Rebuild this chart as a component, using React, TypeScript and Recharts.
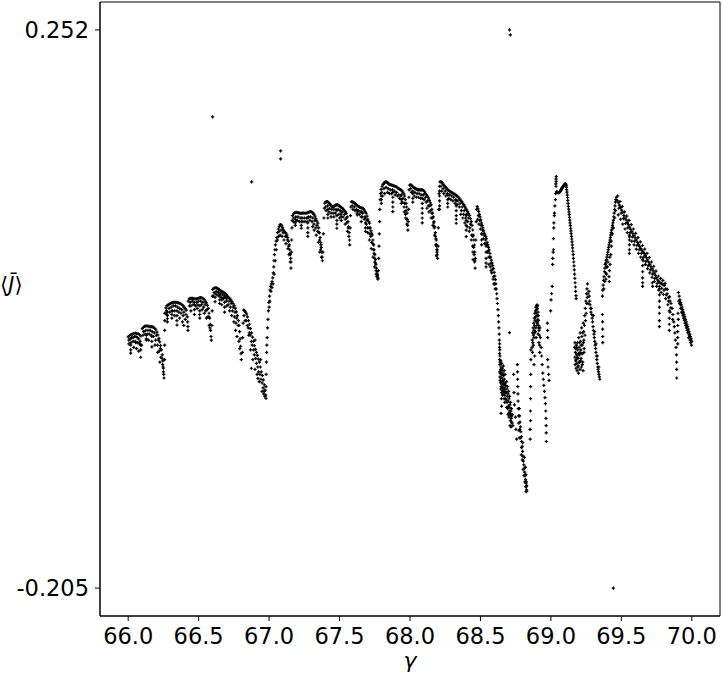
import React from 'react';
import { ScatterChart, Scatter, XAxis, YAxis, ReferenceArea } from 'recharts';

type P = [number, number];

// gamma, <J>
const branch66: P[] = [
  [66.000,0.0006],[66.010,0.0018],[66.020,0.0026],[66.030,0.0030],[66.040,0.0034],[66.050,0.0038],[66.060,0.0036],[66.070,0.0034],[66.080,0.0026],[66.090,0.0014],
  [66.005,-0.002],[66.015,-0.001],[66.025,0.000],[66.035,0.000],[66.045,0.001],[66.055,0.001],[66.065,0.000],[66.075,-0.001],[66.085,-0.003],[66.095,-0.006],
  [66.018,-0.006],[66.018,-0.010],[66.018,-0.0126],[66.089,-0.006],[66.089,-0.010],[66.089,-0.016],[66.053,-0.004],
  [66.100,0.0075],[66.108,0.0085],[66.116,0.0092],[66.124,0.0096],[66.132,0.0096],[66.140,0.0094],[66.148,0.0092],[66.156,0.0091],[66.164,0.0090],[66.172,0.0088],[66.180,0.0084],[66.188,0.0077],[66.196,0.0065],[66.204,0.0045],[66.211,0.0022],[66.218,-0.0005],[66.224,-0.0035],[66.230,-0.0065],[66.236,-0.0100],[66.242,-0.0140],[66.246,-0.0190],[66.250,-0.0250],[66.252,-0.0300],[66.254,-0.0330],
  [66.110,0.005],[66.125,0.006],[66.140,0.006],[66.155,0.006],[66.170,0.005],[66.185,0.004],[66.200,0.002],[66.215,-0.002],[66.228,-0.009],[66.240,-0.017],[66.248,-0.024],
  [66.129,0.002],[66.129,-0.001],[66.129,-0.002],[66.168,0.001],[66.168,-0.003],[66.168,-0.0075],[66.245,-0.022],[66.250,-0.028],
  [66.259,-0.018],[66.259,-0.006],[66.259,0.006],[66.260,0.014],[66.261,0.020],
  [66.262,0.020],[66.268,0.0245],[66.276,0.0262],[66.284,0.0270],[66.292,0.0275],[66.300,0.0280],[66.308,0.0285],[66.316,0.0288],[66.324,0.0290],[66.332,0.0290],[66.340,0.0289],[66.348,0.0287],[66.356,0.0285],[66.364,0.0282],[66.372,0.0278],[66.380,0.0272],[66.388,0.0262],[66.396,0.0250],[66.404,0.0238],[66.412,0.0225],
  [66.272,0.022],[66.290,0.024],[66.305,0.025],[66.320,0.026],[66.335,0.026],[66.350,0.025],[66.365,0.024],[66.380,0.023],[66.395,0.021],[66.410,0.019],
  [66.278,0.021],[66.278,0.018],[66.278,0.0155],[66.278,0.013],[66.310,0.022],[66.310,0.019],[66.310,0.016],[66.346,0.022],[66.346,0.018],[66.346,0.014],[66.346,0.0104],
  [66.420,0.017],[66.422,0.013],[66.424,0.009],[66.424,0.006],
  [66.426,0.030],[66.434,0.0318],[66.442,0.0322],[66.450,0.0323],[66.458,0.0322],[66.466,0.0320],[66.474,0.0319],[66.482,0.0318],[66.490,0.0320],[66.498,0.0323],[66.506,0.0326],[66.514,0.0328],[66.522,0.0327],[66.530,0.0323],[66.538,0.0315],[66.546,0.0300],[66.554,0.0285],[66.562,0.0265],[66.568,0.0240],[66.574,0.020],[66.578,0.016],[66.582,0.011],[66.585,0.006],[66.588,0.001],[66.590,-0.002],
  [66.440,0.029],[66.455,0.030],[66.470,0.029],[66.485,0.029],[66.500,0.030],[66.515,0.030],[66.530,0.029],[66.545,0.027],[66.560,0.023],[66.572,0.017],[66.580,0.008],
  [66.470,0.027],[66.470,0.023],[66.470,0.019],[66.508,0.026],[66.508,0.022],[66.508,0.019],[66.508,0.016],[66.445,0.026],[66.445,0.022],
  [66.594,0.010],[66.596,0.022],[66.598,0.034],
  [66.600,0.0395],[66.608,0.0405],[66.616,0.0409],[66.624,0.0410],[66.632,0.0405],[66.640,0.0398],[66.648,0.0391],[66.656,0.0386],[66.664,0.0380],[66.672,0.0373],[66.680,0.0367],[66.688,0.0360],[66.696,0.0350],[66.704,0.0340],[66.712,0.0330],[66.720,0.0323],[66.728,0.0310],[66.736,0.0295],[66.744,0.0280],[66.752,0.0262],[66.760,0.0240],[66.768,0.0212],[66.775,0.018],[66.782,0.014],[66.787,0.010],[66.791,0.005],[66.795,-0.001],[66.798,-0.007],[66.801,-0.013],[66.803,-0.018],
  [66.610,0.037],[66.625,0.038],[66.640,0.037],[66.655,0.036],[66.670,0.035],[66.685,0.034],[66.700,0.032],[66.715,0.030],[66.730,0.028],[66.745,0.025],[66.758,0.021],[66.770,0.016],[66.780,0.010],
  [66.617,0.036],[66.617,0.033],[66.617,0.0295],[66.649,0.035],[66.649,0.031],[66.649,0.028],[66.684,0.033],[66.684,0.029],[66.684,0.025],[66.684,0.021],
  [66.810,-0.012],[66.813,0.000],[66.816,0.012],
  [66.819,0.0227],[66.826,0.0222],[66.833,0.0210],[66.840,0.0195],[66.847,0.0170],[66.854,0.0140],[66.861,0.0110],[66.868,0.0075],[66.875,0.0040],[66.882,0.0005],[66.889,-0.0030],[66.896,-0.0065],[66.903,-0.0095],[66.910,-0.0120],[66.917,-0.0145],[66.924,-0.0175],[66.931,-0.0200],[66.938,-0.0240],[66.945,-0.0280],[66.952,-0.0310],[66.959,-0.0345],[66.966,-0.0385],[66.972,-0.0430],[66.976,-0.0470],[66.978,-0.0496],
  [66.830,0.014],[66.845,0.010],[66.860,0.004],[66.875,-0.003],[66.890,-0.010],[66.905,-0.017],[66.920,-0.024],[66.935,-0.030],[66.950,-0.037],[66.965,-0.044],
  [66.874,-0.025],[66.921,-0.0333],[66.855,0.002],[66.900,-0.002],[66.940,-0.018],
];

const extra66: P[] = [
  [66.005,-0.005],[66.020,-0.004],[66.035,-0.003],[66.050,-0.003],[66.065,-0.004],[66.080,-0.005],[66.040,-0.008],[66.060,-0.009],[66.075,-0.011],
  [66.105,0.002],[66.120,0.003],[66.135,0.003],[66.150,0.003],[66.165,0.002],[66.180,0.001],[66.195,-0.002],[66.208,-0.006],[66.220,-0.011],[66.232,-0.016],[66.145,-0.002],[66.190,-0.006],[66.210,-0.012],[66.225,-0.020],
  [66.275,0.019],[66.295,0.021],[66.315,0.022],[66.330,0.022],[66.360,0.021],[66.375,0.020],[66.390,0.018],[66.405,0.015],[66.330,0.018],[66.365,0.016],[66.385,0.013],[66.395,0.010],
  [66.435,0.026],[66.460,0.027],[66.480,0.026],[66.495,0.027],[66.520,0.027],[66.535,0.025],[66.550,0.022],[66.565,0.017],[66.490,0.024],[66.525,0.023],[66.540,0.020],[66.555,0.016],[66.575,0.010],
  [66.605,0.034],[66.630,0.035],[66.645,0.034],[66.660,0.033],[66.675,0.032],[66.695,0.030],[66.710,0.027],[66.725,0.025],[66.740,0.022],[66.755,0.017],[66.765,0.012],[66.700,0.026],[66.720,0.022],[66.735,0.018],[66.750,0.013],[66.762,0.006],[66.772,0.001],[66.786,-0.003],[66.792,-0.009],[66.664,0.031],[66.664,0.027],
  [66.822,0.018],[66.838,0.014],[66.852,0.008],[66.866,0.002],[66.880,-0.006],[66.895,-0.014],[66.910,-0.021],[66.925,-0.028],[66.942,-0.034],[66.958,-0.041],[66.868,-0.010],[66.885,-0.018],[66.900,-0.026],[66.915,-0.030],[66.930,-0.036],[66.950,-0.044],[66.962,-0.046],[66.970,-0.048],
];

const branch67: P[] = [
  [66.978,-0.040],[66.979,-0.030],[66.981,-0.020],[66.983,-0.012],[66.984,-0.006],[66.986,0.000],[66.989,0.008],[66.992,0.015],[66.995,0.022],[66.999,0.029],[67.003,0.034],[67.007,0.039],[67.011,0.042],[67.016,0.044],[67.021,0.046],[67.026,0.049],[67.030,0.053],[67.033,0.058],[67.035,0.063],[67.038,0.068],[67.041,0.072],[67.045,0.076],[67.050,0.079],[67.055,0.082],[67.060,0.086],[67.066,0.089],[67.072,0.091],[67.078,0.0925],[67.084,0.0925],[67.090,0.0915],[67.096,0.090],[67.102,0.088],[67.108,0.087],[67.114,0.086],[67.120,0.0855],[67.126,0.084],[67.132,0.082],[67.138,0.079],[67.143,0.076],[67.147,0.072],[67.150,0.068],[67.153,0.065],[67.156,0.062],
  [67.070,0.087],[67.085,0.088],[67.100,0.086],[67.115,0.083],[67.130,0.080],[67.140,0.075],[67.148,0.069],
  [67.158,0.070],[67.160,0.080],[67.162,0.090],[67.164,0.096],
  [67.166,0.1000],[67.174,0.1015],[67.182,0.1022],[67.190,0.1026],[67.198,0.1026],[67.206,0.1024],[67.214,0.1020],[67.222,0.1019],[67.230,0.1019],[67.238,0.1020],[67.246,0.1020],[67.254,0.1019],[67.262,0.1019],[67.270,0.1022],[67.278,0.1027],[67.286,0.1030],[67.294,0.1032],[67.302,0.1030],[67.310,0.1022],[67.318,0.1010],[67.325,0.0995],[67.332,0.0975],[67.339,0.0955],[67.346,0.0937],[67.352,0.090],[67.357,0.086],[67.362,0.082],[67.366,0.078],[67.370,0.074],[67.373,0.070],[67.376,0.066],[67.378,0.063],
  [67.175,0.098],[67.190,0.099],[67.205,0.099],[67.220,0.098],[67.235,0.098],[67.250,0.098],[67.265,0.098],[67.280,0.099],[67.295,0.099],[67.310,0.098],[67.325,0.096],[67.340,0.092],[67.355,0.086],[67.368,0.076],
  [67.186,0.097],[67.186,0.094],[67.186,0.092],[67.228,0.098],[67.228,0.095],[67.228,0.092],[67.228,0.0896],[67.275,0.098],[67.275,0.094],[67.275,0.090],[67.275,0.086],[67.275,0.083],
  [67.381,0.070],[67.385,0.085],[67.389,0.098],[67.392,0.106],
  [67.395,0.1102],[67.402,0.1110],[67.409,0.1114],[67.416,0.1114],[67.423,0.1105],[67.430,0.1095],[67.437,0.1085],[67.444,0.1078],[67.451,0.1073],[67.458,0.1075],[67.465,0.1080],[67.472,0.1085],[67.479,0.1087],[67.486,0.1087],[67.493,0.1083],[67.500,0.1077],[67.507,0.1070],[67.514,0.1065],[67.521,0.1060],[67.528,0.1050],[67.535,0.1040],[67.542,0.1030],[67.549,0.1019],[67.555,0.099],[67.560,0.095],[67.564,0.091],[67.568,0.086],[67.571,0.080],[67.572,0.076],
  [67.400,0.107],[67.415,0.108],[67.430,0.106],[67.445,0.105],[67.460,0.105],[67.475,0.105],[67.490,0.105],[67.505,0.104],[67.520,0.103],[67.535,0.101],[67.550,0.098],[67.562,0.090],
  [67.417,0.105],[67.417,0.101],[67.417,0.098],[67.481,0.104],[67.481,0.100],[67.481,0.096],[67.481,0.093],[67.481,0.0896],[67.512,0.103],[67.512,0.099],[67.512,0.096],
  [67.575,0.090],[67.578,0.100],[67.580,0.107],
  [67.584,0.1113],[67.591,0.1112],[67.598,0.1108],[67.605,0.1102],[67.612,0.1095],[67.619,0.1088],[67.626,0.1081],[67.633,0.1076],[67.640,0.1071],[67.647,0.1066],[67.654,0.1063],[67.661,0.1061],[67.668,0.1056],[67.675,0.1045],[67.682,0.1030],[67.689,0.1019],[67.695,0.0995],[67.701,0.097],[67.707,0.095],[67.713,0.0937],[67.718,0.090],[67.723,0.0875],[67.728,0.0855],[67.732,0.0841],[67.737,0.080],[67.742,0.076],[67.746,0.072],[67.750,0.068],[67.754,0.064],[67.758,0.060],[67.762,0.057],[67.766,0.054],[67.770,0.051],[67.773,0.049],
  [67.590,0.108],[67.605,0.107],[67.620,0.105],[67.635,0.104],[67.650,0.103],[67.665,0.102],[67.680,0.099],[67.695,0.096],[67.710,0.090],[67.722,0.083],[67.735,0.077],[67.745,0.069],[67.755,0.061],
  [67.626,0.104],[67.626,0.1005],[67.654,0.103],[67.654,0.099],[67.654,0.0951],[67.684,0.098],[67.684,0.094],[67.684,0.090],[67.684,0.087],
  [67.750,0.062],[67.760,0.055],[67.768,0.052],[67.772,0.048],[67.765,0.050],
];

const extra67: P[] = [
  [67.000,0.025],[67.005,0.030],[67.013,0.038],[67.020,0.041],[67.028,0.044],[67.036,0.052],[67.044,0.063],[67.052,0.072],[67.060,0.080],[67.068,0.083],[67.078,0.084],[67.092,0.083],[67.106,0.080],[67.120,0.077],[67.134,0.073],[67.142,0.068],[67.150,0.062],[67.155,0.057],
  [67.172,0.095],[67.185,0.095],[67.200,0.096],[67.215,0.095],[67.240,0.095],[67.255,0.095],[67.270,0.095],[67.290,0.096],[67.305,0.095],[67.318,0.093],[67.332,0.090],[67.345,0.087],[67.358,0.080],[67.365,0.072],[67.372,0.066],[67.310,0.091],[67.320,0.088],[67.335,0.084],[67.350,0.078],[67.360,0.070],
  [67.405,0.104],[67.425,0.103],[67.440,0.102],[67.455,0.102],[67.470,0.102],[67.495,0.101],[67.510,0.101],[67.525,0.099],[67.540,0.097],[67.552,0.094],[67.566,0.083],[67.440,0.099],[67.460,0.099],[67.500,0.098],[67.540,0.093],[67.556,0.087],
  [67.595,0.105],[67.610,0.104],[67.625,0.102],[67.640,0.101],[67.660,0.099],[67.675,0.097],[67.690,0.093],[67.700,0.090],[67.715,0.085],[67.728,0.078],[67.740,0.072],[67.750,0.065],[67.700,0.086],[67.712,0.080],[67.725,0.073],[67.738,0.066],[67.748,0.058],[67.760,0.052],
];

const branch68: P[] = [
  [67.776,0.055],[67.778,0.065],[67.780,0.075],[67.782,0.085],[67.784,0.095],[67.786,0.105],[67.788,0.113],[67.791,0.118],
  [67.795,0.1215],[67.802,0.1240],[67.809,0.1255],[67.816,0.1265],[67.823,0.1274],[67.830,0.1278],[67.837,0.1272],[67.844,0.1265],[67.851,0.1258],[67.858,0.1254],[67.865,0.1251],[67.872,0.1249],[67.879,0.1246],[67.886,0.1243],[67.893,0.1240],[67.900,0.1237],[67.907,0.1232],[67.914,0.1225],[67.921,0.1220],[67.928,0.1215],[67.935,0.1210],[67.942,0.1203],[67.949,0.1192],[67.956,0.1178],[67.962,0.1160],[67.967,0.113],[67.972,0.110],[67.976,0.107],[67.979,0.102],[67.981,0.097],[67.983,0.092],[67.985,0.088],
  [67.800,0.119],[67.815,0.122],[67.830,0.123],[67.845,0.122],[67.860,0.121],[67.875,0.121],[67.890,0.120],[67.905,0.119],[67.920,0.117],[67.935,0.116],[67.950,0.114],[67.962,0.110],[67.972,0.104],
  [67.796,0.116],[67.796,0.113],[67.796,0.110],[67.878,0.119],[67.878,0.115],[67.878,0.111],[67.878,0.107],[67.878,0.1032],[67.938,0.117],[67.938,0.113],[67.938,0.110],
  [67.987,0.095],[67.990,0.105],[67.992,0.115],[67.994,0.121],
  [67.998,0.1250],[68.005,0.1252],[68.012,0.1248],[68.019,0.1238],[68.026,0.1230],[68.033,0.1224],[68.040,0.1220],[68.047,0.1216],[68.054,0.1211],[68.061,0.1210],[68.068,0.1210],[68.075,0.1210],[68.082,0.1210],[68.089,0.1210],[68.096,0.1205],[68.103,0.1195],[68.110,0.1182],[68.117,0.1170],[68.124,0.1158],[68.131,0.1145],[68.138,0.1125],[68.144,0.1105],[68.150,0.1087],[68.155,0.105],[68.160,0.102],[68.165,0.099],[68.170,0.095],[68.175,0.091],[68.180,0.086],[68.184,0.081],[68.187,0.076],[68.190,0.072],[68.193,0.068],[68.196,0.065],
  [68.005,0.122],[68.020,0.120],[68.035,0.119],[68.050,0.118],[68.065,0.118],[68.080,0.117],[68.095,0.117],[68.110,0.115],[68.125,0.112],[68.140,0.108],[68.155,0.102],[68.168,0.094],[68.180,0.083],
  [68.020,0.118],[68.020,0.114],[68.020,0.111],[68.087,0.114],[68.087,0.110],[68.087,0.106],[68.087,0.102],[68.087,0.098],[68.087,0.094],
  [68.186,0.080],[68.189,0.075],[68.192,0.070],[68.188,0.067],[68.194,0.072],
  [68.199,0.075],[68.201,0.090],[68.203,0.105],[68.206,0.118],[68.209,0.124],
  [68.213,0.1275],[68.220,0.1278],[68.227,0.1270],[68.234,0.1258],[68.241,0.1248],[68.248,0.1238],[68.255,0.1228],[68.262,0.1218],[68.269,0.1210],[68.276,0.1204],[68.283,0.1198],[68.290,0.1193],[68.297,0.1188],[68.304,0.1183],[68.311,0.1178],[68.318,0.1173],[68.325,0.1167],[68.332,0.1161],[68.339,0.1155],[68.346,0.1146],[68.353,0.1135],[68.360,0.1125],[68.367,0.1115],[68.374,0.1101],[68.381,0.1090],[68.388,0.1076],[68.395,0.1061],[68.402,0.1047],[68.409,0.1033],[68.416,0.1017],[68.423,0.1000],[68.429,0.0975],[68.435,0.0950],[68.440,0.092],[68.445,0.0882],[68.449,0.084],[68.453,0.080],[68.457,0.0759],[68.459,0.070],[68.461,0.063],[68.462,0.057],
  [68.220,0.124],[68.235,0.122],[68.250,0.120],[68.265,0.118],[68.280,0.117],[68.295,0.116],[68.310,0.115],[68.325,0.113],[68.340,0.112],[68.355,0.110],[68.370,0.107],[68.385,0.104],[68.400,0.101],[68.415,0.098],[68.430,0.093],[68.445,0.083],
  [68.210,0.120],[68.210,0.116],[68.210,0.112],[68.210,0.108],[68.210,0.105],[68.268,0.117],[68.268,0.113],[68.268,0.110],[68.268,0.107],
  [68.328,0.112],[68.328,0.108],[68.328,0.104],[68.328,0.100],[68.328,0.097],[68.328,0.0937],[68.399,0.100],[68.399,0.096],[68.399,0.092],[68.399,0.088],[68.399,0.0827],
  [68.445,0.075],[68.447,0.070],[68.448,0.064],
  [68.464,0.065],[68.467,0.080],[68.470,0.095],[68.473,0.105],
  [68.477,0.1073],[68.482,0.1055],[68.487,0.1035],[68.492,0.1010],[68.497,0.0990],[68.502,0.0965],[68.507,0.0940],[68.512,0.0920],[68.517,0.0900],[68.522,0.0875],[68.527,0.0855],[68.532,0.0840],[68.537,0.0827],[68.542,0.0810],[68.547,0.0780],[68.552,0.0760],[68.557,0.0740],[68.562,0.0718],[68.567,0.0690],[68.572,0.0660],[68.577,0.0635],[68.582,0.0610],[68.587,0.0590],[68.592,0.0565],[68.597,0.0535],[68.602,0.0505],[68.606,0.0475],[68.609,0.0440],[68.612,0.0400],[68.615,0.0360],[68.618,0.0320],[68.621,0.0280],[68.624,0.0230],[68.627,0.0180],[68.629,0.0130],[68.631,0.0080],[68.633,0.0030],[68.634,-0.0020],[68.635,-0.0080],[68.636,-0.0130],
  [68.485,0.100],[68.495,0.096],[68.505,0.092],[68.515,0.088],[68.525,0.084],[68.535,0.080],[68.545,0.076],[68.555,0.071],[68.565,0.066],[68.575,0.061],[68.585,0.056],[68.595,0.050],
  [68.540,0.075],[68.540,0.070],[68.540,0.065],[68.540,0.061],[68.540,0.058],[68.508,0.085],[68.508,0.080],[68.508,0.076],
];

const extra68: P[] = [
  [67.805,0.116],[67.820,0.118],[67.840,0.119],[67.855,0.118],[67.870,0.118],[67.895,0.117],[67.910,0.116],[67.925,0.114],[67.945,0.111],[67.958,0.107],[67.968,0.101],[67.975,0.097],[67.960,0.103],[67.970,0.098],[67.978,0.093],
  [68.010,0.119],[68.030,0.116],[68.045,0.115],[68.060,0.115],[68.075,0.114],[68.100,0.113],[68.115,0.111],[68.130,0.108],[68.145,0.104],[68.160,0.098],[68.172,0.090],[68.184,0.076],[68.120,0.106],[68.135,0.103],[68.150,0.098],[68.162,0.092],[68.175,0.084],
  [68.225,0.120],[68.240,0.118],[68.255,0.116],[68.275,0.114],[68.290,0.113],[68.305,0.112],[68.320,0.110],[68.335,0.109],[68.350,0.107],[68.365,0.104],[68.380,0.101],[68.395,0.098],[68.410,0.095],[68.425,0.090],[68.438,0.084],[68.452,0.074],[68.360,0.101],[68.375,0.098],[68.390,0.094],[68.405,0.091],[68.420,0.087],[68.435,0.080],[68.455,0.068],[68.458,0.062],
  [68.480,0.097],[68.490,0.093],[68.500,0.089],[68.510,0.085],[68.520,0.081],[68.530,0.077],[68.550,0.070],[68.560,0.066],[68.570,0.058],[68.580,0.053],[68.590,0.048],[68.600,0.044],[68.605,0.040],[68.560,0.060],[68.575,0.055],[68.595,0.044],
];

const lowRegion: P[] = [
  [68.636,-0.018],[68.638,-0.022],[68.640,-0.020],[68.642,-0.026],[68.644,-0.019],[68.646,-0.024],[68.648,-0.030],[68.650,-0.021],[68.652,-0.027],[68.654,-0.033],[68.656,-0.025],[68.658,-0.029],[68.660,-0.036],[68.662,-0.023],[68.664,-0.031],[68.666,-0.038],[68.668,-0.027],[68.670,-0.034],[68.672,-0.042],[68.674,-0.030],[68.676,-0.037],[68.678,-0.045],
  [68.640,-0.035],[68.644,-0.042],[68.648,-0.050],[68.652,-0.040],[68.656,-0.047],[68.650,-0.056],[68.646,-0.062],
  [68.685,-0.036],[68.688,-0.042],[68.690,-0.048],[68.692,-0.040],[68.695,-0.046],[68.697,-0.052],[68.700,-0.044],[68.702,-0.050],[68.704,-0.057],[68.707,-0.048],[68.709,-0.055],[68.711,-0.062],[68.714,-0.053],[68.716,-0.060],[68.718,-0.066],[68.720,-0.058],[68.722,-0.064],[68.724,-0.070],[68.700,-0.062],[68.712,-0.068],
  [68.706,0.0042],
  [68.762,-0.022],[68.763,-0.028],[68.764,-0.034],[68.765,-0.040],[68.766,-0.046],[68.767,-0.052],[68.768,-0.058],[68.770,-0.064],[68.772,-0.070],[68.774,-0.076],[68.776,-0.082],
  [68.776,-0.058],[68.778,-0.064],[68.781,-0.069],[68.784,-0.073],[68.787,-0.077],[68.790,-0.081],[68.793,-0.085],[68.796,-0.089],[68.799,-0.093],[68.802,-0.097],[68.805,-0.101],[68.808,-0.104],[68.811,-0.107],[68.814,-0.110],[68.817,-0.113],[68.820,-0.116],[68.823,-0.119],[68.825,-0.122],[68.827,-0.1245],[68.829,-0.1255],[68.826,-0.118],[68.822,-0.112],[68.818,-0.106],[68.812,-0.098],[68.800,-0.086],[68.792,-0.090],
  [68.636,-0.005],[68.637,-0.010],[68.638,-0.015],
  [68.858,-0.010],[68.858,-0.018],[68.857,-0.030],[68.856,-0.040],[68.856,-0.050],[68.855,-0.060],[68.855,-0.068],[68.852,-0.075],[68.853,-0.083],
  [68.866,-0.008],[68.868,-0.002],[68.870,0.004],[68.872,-0.004],[68.874,0.008],[68.876,0.002],[68.878,0.012],[68.880,0.006],[68.882,0.016],[68.884,0.010],[68.886,0.020],[68.888,0.014],[68.890,0.022],[68.892,0.017],[68.894,0.025],[68.896,0.020],[68.898,0.026],[68.900,0.023],[68.902,0.027],[68.904,0.024],[68.906,0.026],[68.908,0.021],[68.910,0.018],[68.912,0.014],[68.914,0.010],[68.916,0.006],[68.918,0.002],[68.890,0.005],[68.895,0.000],[68.900,0.010],[68.905,0.012],[68.910,0.003],[68.915,-0.004],
  [68.922,0.008],[68.926,0.000],[68.930,-0.008],[68.934,-0.015],[68.938,-0.022],[68.942,-0.029],[68.946,-0.034],[68.950,-0.039],[68.954,-0.044],[68.958,-0.049],[68.961,-0.054],[68.963,-0.060],[68.965,-0.066],[68.966,-0.072],[68.967,-0.078],[68.967,-0.085],[68.977,-0.018],[68.980,-0.024],[68.984,-0.030],[68.987,-0.035],[68.975,0.012],[68.976,0.006],[68.977,0.000],
];

const extraLow: P[] = [
  [68.637,-0.028],[68.639,-0.032],[68.641,-0.029],[68.643,-0.037],[68.645,-0.033],[68.647,-0.040],[68.649,-0.036],[68.651,-0.045],[68.653,-0.038],[68.655,-0.043],[68.657,-0.035],[68.659,-0.041],[68.661,-0.046],[68.663,-0.038],[68.665,-0.044],[68.667,-0.050],[68.669,-0.041],[68.671,-0.047],[68.673,-0.053],[68.675,-0.044],[68.677,-0.050],[68.679,-0.039],[68.681,-0.045],[68.683,-0.051],[68.686,-0.057],[68.689,-0.053],[68.693,-0.058],[68.696,-0.063],[68.699,-0.056],[68.703,-0.065],[68.706,-0.060],[68.710,-0.072],[68.713,-0.064],[68.717,-0.073],[68.721,-0.069],[68.726,-0.063],[68.730,-0.072],
  [68.735,-0.030],[68.738,-0.045],[68.742,-0.055],[68.748,-0.065],[68.752,-0.075],[68.756,-0.083],
  [68.779,-0.075],[68.785,-0.082],[68.790,-0.096],[68.797,-0.100],[68.803,-0.108],[68.809,-0.113],[68.815,-0.118],[68.821,-0.122],[68.824,-0.126],[68.828,-0.121],
  [68.870,-0.012],[68.875,-0.006],[68.880,0.000],[68.885,0.004],[68.893,0.008],[68.897,0.013],[68.903,0.018],[68.907,0.015],[68.913,0.008],[68.919,-0.006],[68.921,-0.012],[68.885,-0.015],[68.880,-0.022],
];

const branch69: P[] = [
  [68.998,0.022],[69.001,0.031],[69.005,0.036],[69.009,0.042],[69.012,0.060],[69.013,0.065],[69.016,0.070],[69.018,0.072],[69.018,0.081],[69.020,0.090],[69.021,0.094],[69.024,0.100],[69.025,0.102],[69.028,0.108],[69.032,0.113],[69.034,0.118],[69.036,0.124],[69.037,0.128],[69.038,0.132],[69.036,0.130],[69.035,0.126],
  [69.040,0.1195],[69.043,0.1192],[69.046,0.1190],[69.049,0.1189],[69.052,0.1188],[69.055,0.1187],[69.058,0.1187],[69.061,0.1190],[69.064,0.1195],[69.067,0.1200],[69.070,0.1206],[69.073,0.1212],[69.076,0.1218],[69.079,0.1224],[69.082,0.1230],[69.085,0.1236],[69.088,0.1241],[69.091,0.1246],[69.094,0.1250],[69.097,0.1254],[69.100,0.1257],[69.103,0.1259],[69.106,0.1255],[69.108,0.1245],[69.110,0.1230],[69.112,0.1212],[69.114,0.1192],[69.116,0.1170],[69.118,0.1148],[69.120,0.1125],[69.122,0.1100],[69.124,0.1075],[69.126,0.1052],[69.128,0.1030],[69.130,0.1008],[69.132,0.0985],[69.134,0.0962],[69.136,0.0940],[69.138,0.0918],[69.140,0.0896],[69.142,0.0874],[69.144,0.0852],[69.146,0.0830],[69.148,0.0808],[69.150,0.0785],[69.152,0.0760],[69.154,0.0735],[69.156,0.0708],[69.158,0.0680],[69.160,0.0650],[69.162,0.0620],[69.164,0.0588],[69.166,0.0555],[69.168,0.0520],[69.170,0.0485],[69.172,0.0450],[69.174,0.0415],[69.176,0.0380],[69.178,0.0345],[69.179,0.0320],
  [69.168,-0.008],[69.170,-0.016],[69.172,-0.022],[69.174,-0.012],[69.176,-0.019],[69.178,-0.025],[69.180,-0.006],[69.182,-0.014],[69.184,-0.021],[69.186,-0.027],[69.188,-0.004],[69.190,-0.010],[69.192,-0.017],[69.194,-0.023],[69.196,-0.029],[69.198,0.000],[69.200,-0.008],[69.202,-0.014],[69.204,-0.020],[69.206,-0.026],[69.208,0.004],[69.210,-0.003],[69.212,-0.010],[69.214,-0.017],[69.216,-0.024],[69.218,0.008],[69.220,0.001],[69.222,-0.006],[69.224,-0.013],[69.226,-0.020],[69.228,-0.027],[69.230,0.012],[69.232,0.005],[69.234,-0.002],[69.236,-0.009],[69.240,0.018],[69.244,0.024],[69.248,0.030],[69.252,0.036],[69.256,0.040],[69.260,0.044],[69.262,0.036],[69.264,0.028],
  [69.270,0.038],[69.272,0.034],[69.275,0.030],[69.278,0.027],[69.281,0.024],[69.284,0.021],[69.287,0.024],[69.290,0.019],[69.293,0.016],[69.296,0.013],[69.299,0.009],[69.302,0.006],[69.305,0.003],[69.308,0.000],[69.311,-0.003],[69.314,-0.006],[69.317,-0.009],[69.320,-0.012],[69.323,-0.015],[69.326,-0.018],[69.329,-0.021],[69.332,-0.024],[69.335,-0.026],[69.338,-0.028],[69.341,-0.030],[69.344,-0.032],[69.347,-0.034],[69.300,0.018],[69.310,0.005],[69.320,-0.005],[69.330,-0.015],[69.340,-0.024],
  [69.366,0.019],[69.367,0.013],[69.367,0.007],[69.368,0.001],[69.368,-0.004],
  [69.366,0.034],[69.368,0.039],[69.371,0.043],[69.374,0.047],[69.377,0.050],[69.380,0.054],[69.383,0.057],[69.386,0.060],[69.389,0.061],[69.392,0.063],[69.395,0.064],[69.398,0.066],[69.401,0.068],[69.404,0.070],[69.407,0.072],[69.410,0.074],[69.413,0.076],[69.416,0.078],[69.419,0.080],[69.422,0.082],[69.425,0.084],[69.428,0.086],[69.431,0.088],[69.434,0.090],[69.437,0.092],[69.440,0.094],[69.443,0.096],[69.446,0.099],[69.449,0.102],[69.452,0.105],[69.455,0.108],[69.458,0.111],[69.461,0.113],[69.464,0.115],
  [69.412,0.050],[69.414,0.046],[69.416,0.055],[69.420,0.060],[69.425,0.068],[69.430,0.075],[69.400,0.058],[69.395,0.052],[69.390,0.048],
  [69.470,0.1125],[69.478,0.1105],[69.486,0.1085],[69.494,0.1065],[69.502,0.1045],[69.510,0.1025],[69.518,0.1000],[69.526,0.0980],[69.534,0.0965],[69.542,0.0945],[69.550,0.0925],[69.558,0.0905],[69.566,0.0888],[69.574,0.0870],[69.582,0.0852],[69.590,0.0835],[69.598,0.0818],[69.606,0.0800],[69.614,0.0780],[69.622,0.0762],[69.630,0.0745],[69.638,0.0730],[69.646,0.0715],[69.654,0.0700],[69.662,0.0690],[69.670,0.0672],[69.678,0.0655],[69.686,0.0636],[69.694,0.0618],[69.702,0.0600],[69.710,0.0582],[69.718,0.0565],[69.726,0.0547],[69.734,0.0528],[69.742,0.0510],[69.750,0.0490],[69.758,0.0472],[69.766,0.0462],[69.774,0.0452],[69.782,0.0445],[69.790,0.0438],[69.798,0.0432],[69.805,0.0430],[69.815,0.0400],[69.825,0.0360],[69.835,0.0330],[69.845,0.0300],[69.852,0.0280],[69.860,0.0240],[69.866,0.0190],[69.872,0.0130],[69.876,0.0090],[69.880,0.0040],[69.884,-0.0020],[69.888,-0.0080],[69.891,-0.0140],[69.892,-0.0200],[69.893,-0.0260],[69.893,-0.0330],
  [69.474,0.1160],[69.490,0.1115],[69.506,0.1075],[69.522,0.1030],[69.538,0.0995],[69.554,0.0960],[69.570,0.0925],[69.586,0.0890],[69.602,0.0855],[69.618,0.0820],[69.634,0.0785],[69.650,0.0755],[69.666,0.0725],[69.682,0.0690],[69.698,0.0655],[69.714,0.0620],[69.730,0.0585],[69.746,0.0545],[69.762,0.0505],[69.778,0.0485],[69.794,0.0470],[69.810,0.0445],[69.826,0.0395],[69.842,0.0335],
  [69.482,0.1060],[69.498,0.1020],[69.514,0.0975],[69.530,0.0935],[69.546,0.0900],[69.562,0.0860],[69.578,0.0825],[69.594,0.0790],[69.610,0.0755],[69.626,0.0720],[69.642,0.0690],[69.658,0.0660],[69.674,0.0625],[69.690,0.0590],[69.706,0.0555],[69.722,0.0520],[69.738,0.0485],[69.754,0.0445],[69.770,0.0420],[69.786,0.0405],[69.802,0.0390],[69.818,0.0350],[69.834,0.0300],[69.850,0.0245],[69.864,0.0150],
  [69.557,0.084],[69.557,0.080],[69.557,0.076],[69.557,0.072],[69.557,0.069],
  [69.651,0.064],[69.651,0.059],[69.651,0.054],[69.651,0.049],[69.651,0.045],[69.651,0.042],
  [69.770,0.040],[69.770,0.035],[69.770,0.030],[69.770,0.025],[69.770,0.020],[69.770,0.014],[69.770,0.009],
  [69.840,0.022],[69.840,0.016],[69.840,0.011],[69.840,0.006],
  [69.905,0.037],[69.910,0.034],[69.915,0.031],[69.920,0.029],[69.925,0.027],[69.930,0.025],[69.935,0.023],[69.940,0.021],[69.945,0.019],[69.950,0.017],[69.955,0.015],[69.960,0.013],[69.965,0.011],[69.970,0.009],[69.975,0.007],[69.980,0.005],[69.985,0.003],[69.990,0.001],[69.995,-0.001],[70.000,-0.003],
  [69.912,0.028],[69.922,0.024],[69.932,0.020],[69.942,0.016],[69.952,0.012],[69.962,0.008],[69.972,0.004],[69.982,0.002],[69.992,-0.004],
  [69.900,0.010],[69.900,0.005],[69.900,0.000],[69.900,-0.005],[69.902,0.020],[69.904,0.015],
];

const extra69: P[] = [
  [69.171,-0.004],[69.175,-0.009],[69.179,-0.018],[69.183,-0.008],[69.187,-0.016],[69.191,-0.024],[69.195,-0.013],[69.199,-0.020],[69.203,-0.004],[69.207,-0.012],[69.211,-0.019],[69.215,-0.006],[69.219,-0.013],[69.223,-0.022],[69.227,0.004],[69.231,-0.004],[69.235,-0.012],[69.238,0.010],[69.242,0.002],[69.246,0.014],[69.250,0.020],[69.254,0.028],[69.258,0.033],
  [69.478,0.1005],[69.494,0.0970],[69.510,0.0930],[69.526,0.0890],[69.542,0.0860],[69.558,0.0825],[69.574,0.0790],[69.590,0.0760],[69.606,0.0725],[69.622,0.0690],[69.638,0.0660],[69.654,0.0630],[69.670,0.0600],[69.686,0.0565],[69.702,0.0530],[69.718,0.0495],[69.734,0.0460],[69.750,0.0420],[69.766,0.0390],[69.782,0.0370],[69.798,0.0355],[69.814,0.0320],[69.830,0.0270],[69.846,0.0210],
  [69.720,0.045],[69.722,0.042],
  [69.375,0.040],[69.382,0.046],[69.388,0.053],[69.395,0.058],[69.405,0.062],[69.418,0.066],[69.428,0.079],[69.436,0.085],[69.444,0.090],[69.452,0.098],[69.458,0.104],
  [69.908,0.030],[69.918,0.027],[69.928,0.021],[69.938,0.018],[69.948,0.014],[69.958,0.010],[69.968,0.006],[69.978,0.000],[69.988,-0.002],[69.998,-0.006],
];

const outliers: P[] = [
  [68.706,0.252],[68.712,0.248],[66.599,0.1808],[66.876,0.1275],[67.082,0.1529],[67.082,0.1464],[69.443,-0.205],
];

const xTicks = [66.0, 66.5, 67.0, 67.5, 68.0, 68.5, 69.0, 69.5, 70.0];
const yTicks = [-0.205, 0.252];
const xDomain: [number, number] = [65.8, 70.2];
const yDomain: [number, number] = [-0.22785, 0.27485];

const toRows = (arr: P[]) => arr.map(([g, J]) => ({ g, J }));
const seriesList = [branch66, extra66, branch67, extra67, branch68, extra68, lowRegion, extraLow, branch69, extra69, outliers];

const Plus = (props: any) => {
  const { cx, cy } = props;
  if (cx == null || cy == null) return null;
  const a = 1.6;
  return <path d={`M${cx - a},${cy}H${cx + a}M${cx},${cy - a}V${cy + a}`} stroke="#000" strokeWidth={1.2} fill="none" />;
};

const font = '"DejaVu Sans", sans-serif';

export default function App() {
  return (
    <div style={{ position: 'absolute', left: 0, top: 0, width: 722, height: 676, background: '#fff' }}>
      <ScatterChart width={722} height={676} margin={{ top: 2, right: 2, bottom: 0, left: 0 }}>
        <XAxis
          type="number"
          dataKey="g"
          domain={xDomain}
          ticks={xTicks}
          allowDataOverflow
          tickFormatter={(v: number) => v.toFixed(1)}
          height={60}
          tickSize={5}
          tickMargin={7}
          stroke="#000"
          tick={{ fill: '#000', fontSize: 22.5, fontFamily: font }}
          label={{
            content: () => (
              <text x={410} y={668} textAnchor="middle" fontSize={22} fontFamily={font} fontStyle="italic" fill="#000">γ</text>
            ),
          }}
        />
        <YAxis
          type="number"
          dataKey="J"
          domain={yDomain}
          ticks={yTicks}
          allowDataOverflow
          tickFormatter={(v: number) => v.toFixed(3)}
          width={100}
          tickSize={5}
          tickMargin={6}
          stroke="#000"
          tick={{ fill: '#000', fontSize: 22.5, fontFamily: font }}
          label={{
            content: () => (
              <text x={0} y={292} textAnchor="start" fontSize={21} fontFamily={font} fill="#000">
                ⟨<tspan fontStyle="italic">J̄</tspan>⟩
              </text>
            ),
          }}
        />
        <ReferenceArea x1={xDomain[0]} x2={xDomain[1]} y1={yDomain[0]} y2={yDomain[1]} fill="none" stroke="#000" strokeWidth={1} ifOverflow="visible" />
        {seriesList.map((s, i) => (
          <Scatter key={i} data={toRows(s)} fill="#000" shape={<Plus />} isAnimationActive={false} />
        ))}
      </ScatterChart>
    </div>
  );
}
